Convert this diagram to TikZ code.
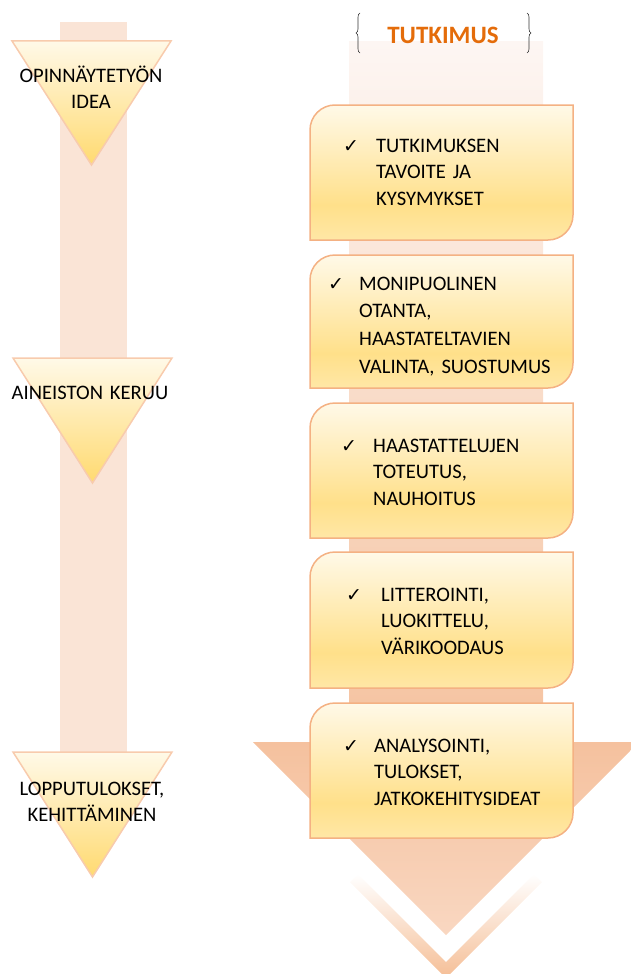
\documentclass[tikz,border=0pt]{standalone}
\usepackage{fontspec}
\setmainfont{Carlito}
\newfontfamily\symfont{DejaVu Sans}
\usetikzlibrary{decorations.pathreplacing}
\definecolor{leftbar}{HTML}{FAE4D6}
\definecolor{triborder}{HTML}{F8CBAD}
\definecolor{tritop}{HTML}{FFF9E8}
\definecolor{tribot}{HTML}{FFDA70}
\definecolor{boxtop}{HTML}{FFF9E8}
\definecolor{boxbot}{HTML}{FFE08A}
\definecolor{boxbotb}{HTML}{FFE7A6}
\definecolor{boxborder}{HTML}{F4B183}
\definecolor{rbartop}{HTML}{FDF6F3}
\definecolor{rbarbot}{HTML}{F5C29F}
\definecolor{headtop}{HTML}{F5C19E}
\definecolor{headbot}{HTML}{F9D7C1}
\definecolor{chevbot}{HTML}{F5BE96}
\definecolor{titleorange}{HTML}{E46C0A}
\pgfdeclareverticalshading{boxshade}{100bp}{color(0bp)=(boxbotb); color(25bp)=(boxbotb); color(38bp)=(boxbot); color(75bp)=(boxtop); color(100bp)=(boxtop)}
\tikzset{
  tri/.style={draw=triborder, line width=1.5pt, top color=tritop, bottom color=tribot, line join=miter},
  boxshape/.style={draw=boxborder, line width=1.5pt, shading=boxshade},
  boxtext/.style={anchor=base west, text width=230pt, align=left, inner sep=0pt, font=\frenchspacing\fontsize{20.6}{26.8}\selectfont},
  checkmark/.style={anchor=base west, inner sep=0pt, font=\symfont\fontsize{19}{19}\selectfont},
  lefttext/.style={anchor=base, text width=190pt, align=center, inner sep=0pt, font=\frenchspacing\fontsize{20.6}{26}\selectfont},
  bracestyle/.style={draw=black!80, line width=0.6pt, decorate, decoration={brace, amplitude=4pt}}
}
\newcommand{\diagbox}[4]{% x1 y1 x2 y2
  \path[boxshape] ({(#1+#3)/2},#2) [sharp corners] -- (#3,#2) -- (#3,{(#2+#4)/2}) [rounded corners=25pt] -- (#3,#4) -- ({(#1+#3)/2},#4) [sharp corners] -- (#1,#4) -- (#1,{(#2+#4)/2}) [rounded corners=25pt] -- (#1,#2) -- cycle;}
\begin{document}
\begin{tikzpicture}[x=1pt,y=-1pt]
\useasboundingbox (0,0) rectangle (631,974);
% left column
\fill[leftbar] (60,22) rectangle (127,752);
\path[tri] (12,41) -- (171,41) -- (91.5,165) -- cycle;
\path[tri] (13,358) -- (172,358) -- (92.5,483) -- cycle;
\path[tri] (13,752) -- (172,752) -- (92.5,877) -- cycle;
\node[lefttext] (l1) at (91,82) {OPINNÄYTETYÖN\\IDEA};
\node[lefttext] (l2) at (90,399) {AINEISTON KERUU};
\node[lefttext] (l3) at (92,795) {LOPPUTULOKSET,\\KEHITTÄMINEN};
% right column arrow
\shade[top color=rbartop, bottom color=rbarbot] (349,42) rectangle (543,742);
\shade[top color=headtop, bottom color=headbot] (253,742) -- (639,742) -- (446,935) -- cycle;
\shade[top color=white, bottom color=chevbot] (358,874) -- (446,962) -- (534,874) -- (542,882) -- (446,978) -- (350,882) -- cycle;
% title
\node[font=\bfseries\fontsize{25}{25}\selectfont, text=titleorange, anchor=base, inner sep=0pt] (title) at (443,44) {TUTKIMUS};
\coordinate (lb1) at (360,53);
\coordinate (lb2) at (360,13);
\coordinate (rb1) at (527,13);
\coordinate (rb2) at (527,53);
\draw[bracestyle] (lb1) -- (lb2);
\draw[bracestyle] (rb1) -- (rb2);
% boxes
\diagbox{310}{105}{573}{240}
\diagbox{310}{255}{573}{388}
\diagbox{310}{403}{573}{538}
\diagbox{310}{552}{573}{688}
\diagbox{310}{703}{573}{838}
\node[checkmark] (c1) at (343,152) {✓};
\node[boxtext] (t1) at (376,152) {TUTKIMUKSEN\\TAVOITE JA\\KYSYMYKSET};
\node[checkmark] (c2) at (328,290) {✓};
\node[boxtext, font=\frenchspacing\fontsize{20.6}{27.7}\selectfont] (t2) at (359,290) {MONIPUOLINEN\\OTANTA,\\HAASTATELTAVIEN\\VALINTA, SUOSTUMUS};
\node[checkmark] (c3) at (341,452) {✓};
\node[boxtext] (t3) at (373,452) {HAASTATTELUJEN\\TOTEUTUS,\\NAUHOITUS};
\node[checkmark] (c4) at (346,601) {✓};
\node[boxtext] (t4) at (381,601) {LITTEROINTI,\\LUOKITTELU,\\VÄRIKOODAUS};
\node[checkmark] (c5) at (343,752) {✓};
\node[boxtext] (t5) at (374,752) {ANALYSOINTI,\\TULOKSET,\\JATKOKEHITYSIDEAT};
\end{tikzpicture}
\end{document}
